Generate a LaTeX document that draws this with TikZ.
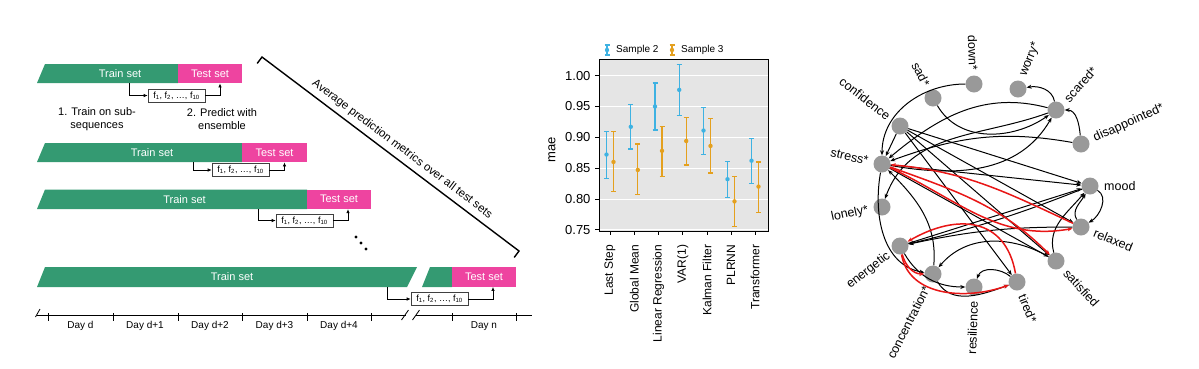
\documentclass[tikz,border=0pt]{standalone}
\usepackage{fontspec}
\setmainfont{Liberation Sans}
\usetikzlibrary{arrows.meta,calc,positioning}
\definecolor{trgreen}{RGB}{52,154,114}
\definecolor{tspink}{RGB}{238,68,160}
\definecolor{smpblue}{RGB}{62,178,226}
\definecolor{smporange}{RGB}{228,160,30}
\definecolor{plotbg}{RGB}{229,229,229}
\definecolor{netgray}{RGB}{153,153,153}
\definecolor{netred}{RGB}{232,22,22}

\begin{document}
\begin{tikzpicture}[x=1pt,y=1pt,
    trainlbl/.style={text=white, font=\fontsize{11}{13}\selectfont, inner sep=0pt},
    testbar/.style={fill=tspink, text=white, minimum width=64.5pt, minimum height=19.5pt, inner sep=0pt, font=\fontsize{11}{13}\selectfont},
    ensbox/.style={draw=black!75, fill=white, line width=0.6pt, minimum width=57pt, minimum height=13pt, inner sep=1pt, font=\fontsize{9}{10}\selectfont},
    flow/.style={-{Latex[length=4pt,width=3.5pt]}, line width=0.7pt},
    steptxt/.style={font=\fontsize{11}{12.5}\selectfont, align=center, inner sep=0pt},
    daylbl/.style={font=\fontsize{10}{12}\selectfont, inner sep=0pt},
    emanode/.style={circle, fill=netgray, minimum size=17pt, inner sep=0pt},
    emalbl/.style={font=\fontsize{12.5}{14}\selectfont, inner sep=0pt},
    netarrow/.style={-{Stealth[length=5pt,width=4pt]}, line width=1pt},
    rednetarrow/.style={netarrow, draw=netred, line width=1.5pt}
  ]
  \useasboundingbox (0,0) rectangle (1199,-368);

  % ---- train / test splits
  \fill[trgreen] (37,-83) -- (45,-64) -- (178,-64) -- (178,-83) -- cycle;
  \node[testbar] (test1) at (210,-73.5) {Test set};
  \node[trainlbl] (train1) at (120,-73.5) {Train set};
  \coordinate (src1) at (129,-83);
  \node[ensbox] (ens1) at (176.5,-95.5) {f\textsubscript{1}, f\textsubscript{2}, …, f\textsubscript{10}};
  \draw[flow] (src1) |- (ens1.west);
  \draw[flow] (ens1.east) -| ([xshift=10pt]test1.south);

  \node[steptxt] (stepA) at (97,-119) {1. Train on sub-\\sequences};
  \node[steptxt] (stepB) at (222,-119) {2. Predict with\\ensemble};

  \fill[trgreen] (37,-162) -- (45,-143) -- (242,-143) -- (242,-162) -- cycle;
  \node[testbar] (test2) at (274.5,-152.5) {Test set};
  \node[trainlbl] (train2) at (152,-152.5) {Train set};
  \coordinate (src2) at (193,-162);
  \node[ensbox] (ens2) at (240.5,-170) {f\textsubscript{1}, f\textsubscript{2}, …, f\textsubscript{10}};
  \draw[flow] (src2) |- (ens2.west);
  \draw[flow] (ens2.east) -| ([xshift=10pt]test2.south);

  \fill[trgreen] (37,-209) -- (45,-189.5) -- (307,-189.5) -- (307,-209) -- cycle;
  \node[testbar] (test3) at (339,-199.25) {Test set};
  \node[trainlbl] (train3) at (184.5,-199.25) {Train set};
  \coordinate (src3) at (258,-209);
  \node[ensbox] (ens3) at (304.5,-220.5) {f\textsubscript{1}, f\textsubscript{2}, …, f\textsubscript{10}};
  \draw[flow] (src3) |- (ens3.west);
  \draw[flow] (ens3.east) -| ([xshift=9pt]test3.south);

  % dots
  \foreach \dx/\dy in {356/237,361/243,366/249}
    \fill (\dx,-\dy) circle[radius=1.7pt];

  \fill[trgreen] (37,-287) -- (45,-267) -- (417,-267) -- (407,-287) -- cycle;
  \fill[trgreen] (430,-267) -- (452,-267) -- (452,-287) -- (422,-287) -- cycle;
  \node[testbar] (test4) at (484,-277) {Test set};
  \node[trainlbl] (train4) at (232,-277) {Train set};
  \coordinate (src4) at (387,-287);
  \node[ensbox] (ens4) at (439.5,-299) {f\textsubscript{1}, f\textsubscript{2}, …, f\textsubscript{10}};
  \draw[flow] (src4) |- (ens4.west);
  \draw[flow] (ens4.east) -| ([xshift=9pt]test4.south);

  % bracket
  \coordinate (brA) at (262,-57);
  \coordinate (brB) at (519,-251);
  \draw[line width=1.4pt] ($(brA)+(-4.8,-6.4)$) -- (brA) -- (brB) -- ($(brB)+(-4.8,-6.4)$);
  \path (brA) -- (brB) node[pos=0.52, sloped, above=2pt, font=\fontsize{11.5}{13}\selectfont] (avgtxt) {Average prediction metrics over all test sets};

  % time axis
  \draw[line width=0.8pt] (37,-315) -- (405.5,-315);
  \draw[line width=0.8pt] (415.5,-315) -- (532,-315);
  \draw[line width=0.8pt] (35.5,-317) -- (40,-309);
  \draw[line width=0.8pt] (401.5,-320) -- (408.5,-310);
  \draw[line width=0.8pt] (412.5,-320) -- (419.5,-310);
  \foreach \tx in {48,113,178,242,307,371,452,516}
    \draw[line width=0.8pt] (\tx,-313) -- (\tx,-321);
  \foreach \lx/\lt in {80.5/Day d,145/Day d+1,210/Day d+2,274.5/Day d+3,339/Day d+4,484/Day n}
    \node[daylbl] at (\lx,-326) {\lt};

  % ---- error bar chart
  \node[rotate=90, font=\fontsize{13}{15}\selectfont] (maelbl) at (552,-150) {mae};
  \begin{scope}[y=616pt, yshift=-691.7pt]
    \fill[plotbg] (599,0.7477) rectangle (768,1.027);
    \foreach \v/\t in {0.75/0.75,0.8/0.80,0.85/0.85,0.9/0.90,0.95/0.95,1.0/1.00} {
      \draw[white, line width=0.7pt] (599,\v) -- (768,\v);
      \draw[line width=0.8pt] (599,\v) -- ++(-4pt,0);
      \node[anchor=east, font=\fontsize{13}{15}\selectfont] at (594,\v) {\t};
    }
    \draw[line width=1pt] (599,0.7477) rectangle (768,1.027);
    \foreach \cx/\lbl/\bm/\bl/\bh/\om/\ol/\oh in {
        610/Last Step/0.872/0.833/0.910/0.860/0.812/0.909,
        634.3/Global Mean/0.917/0.881/0.953/0.847/0.807/0.889,
        658.5/Linear Regression/0.950/0.912/0.988/0.878/0.837/0.918,
        682.7/VAR(1)/0.977/0.935/1.018/0.894/0.855/0.932,
        707/Kalman Filter/0.911/0.872/0.949/0.886/0.842/0.930,
        731/PLRNN/0.832/0.802/0.861/0.796/0.755/0.836,
        755/Transformer/0.862/0.825/0.898/0.820/0.778/0.860} {
      \draw[smpblue, line width=1.2pt] ({\cx-3.5},\bl) -- ({\cx-3.5},\bh);
      \draw[smpblue, line width=1.2pt] ({\cx-6},\bl) -- ({\cx-1},\bl) ({\cx-6},\bh) -- ({\cx-1},\bh);
      \fill[smpblue] ({\cx-3.5},\bm) circle[radius=2.2pt];
      \draw[smporange, line width=1.2pt] ({\cx+3.5},\ol) -- ({\cx+3.5},\oh);
      \draw[smporange, line width=1.2pt] ({\cx+1},\ol) -- ({\cx+6},\ol) ({\cx+1},\oh) -- ({\cx+6},\oh);
      \fill[smporange] ({\cx+3.5},\om) circle[radius=2.2pt];
      \draw[line width=0.8pt] (\cx,0.7477) -- ++(0,-4pt);
      \node[rotate=90, anchor=east, font=\fontsize{12}{14}\selectfont] at (\cx,0.731) {\lbl};
    }
  \end{scope}
  % legend
  \draw[smpblue, line width=1.1pt] (607,-45) -- (607,-55) (604.5,-45) -- (609.5,-45) (604.5,-55) -- (609.5,-55);
  \fill[smpblue] (607,-50) circle[radius=2.2pt];
  \node[anchor=west, font=\fontsize{10}{12}\selectfont, inner sep=0pt] (leg2) at (616,-50) {Sample 2};
  \draw[smporange, line width=1.1pt] (672,-45) -- (672,-55) (669.5,-45) -- (674.5,-45) (669.5,-55) -- (674.5,-55);
  \fill[smporange] (672,-50) circle[radius=2.2pt];
  \node[anchor=west, font=\fontsize{10}{12}\selectfont, inner sep=0pt] (leg3) at (681,-50) {Sample 3};

  % ---- EMA network
  \foreach \n/\x/\y/\dir/\r/\anc/\t in {
      mood/1090/186/0/0/west/mood,
      relaxed/1081/227/-22/-22/west/relaxed,
      satisfied/1056/261/-45/-48/west/satisfied,
      tired/1017/282/-68/-68/west/tired*,
      resilience/974/287/-92/88/east/resilience,
      concentration/933/274/-117/63/east/concentration*,
      energetic/900/246/-142/38/east/energetic,
      lonely/882/207/-168/12/east/lonely*,
      stress/882/164/167/-13/east/stress*,
      confidence/900/126/142/-38/east/confidence,
      sad/933/98/117/-63/east/sad*,
      down/974/84/92/-88/east/down*,
      worry/1018/89/68/68/west/worry*,
      scared/1056/110/44/48/west/scared*,
      disappointed/1081/144/22/24/west/disappointed*} {
    \node[emanode] (\n) at (\x,-\y) {};
    \node[emalbl, rotate=\r, anchor=\anc] (\n-lbl) at ($(\n)+(\dir:14pt)$) {\t};
  }

  \draw[netarrow] (down) to[out=180,in=90] (stress);
  \draw[netarrow] (disappointed) to[out=95,in=0] (scared);
  \draw[netarrow] (scared) to[out=100,in=10] (worry);
  \draw[netarrow] (scared) to[out=165,in=40] (stress);
  \draw[netarrow] (disappointed) to[out=170,in=20] (stress);
  \draw[netarrow] (sad) to[out=-60,in=215] (scared);
  \draw[netarrow] (stress) to[out=-10,in=-120] (scared);
  \draw[netarrow] (scared) to[out=200,in=70] (lonely);
  \draw[netarrow] (confidence) -- (stress);
  \draw[netarrow] (confidence) -- (mood);
  \draw[netarrow] (confidence) -- (relaxed);
  \draw[netarrow] (confidence) -- (satisfied);
  \draw[netarrow] (confidence) -- (tired);
  \draw[netarrow] (stress) -- (mood);
  \draw[netarrow] (stress) -- (satisfied);
  \draw[netarrow] (energetic) -- (mood);
  \draw[netarrow] (mood) to[bend left=4] (energetic);
  \draw[netarrow] (relaxed) to[bend right=6] (energetic);
  \draw[netarrow] (satisfied) to[out=105,in=230] (mood);
  \draw[netarrow] (relaxed) to[out=120,in=240] (mood);
  \draw[netarrow] (mood) to[out=-30,in=30] (relaxed);
  \draw[netarrow] (stress) to[out=-100,in=170] (concentration);
  \draw[netarrow] (satisfied) to[out=150,in=50] (concentration);
  \draw[netarrow] (concentration) to[out=85,in=-45] (stress);
  \draw[netarrow] (energetic) to[out=-60,in=180] (resilience);
  \draw[netarrow] (tired) to[out=140,in=70] (resilience);
  \draw[netarrow] (concentration) to[out=-60,in=200] (tired);

  \draw[rednetarrow] (relaxed) to[out=155,in=-5] (stress);
  \draw[rednetarrow] (stress) to[out=-25,in=190] (relaxed);
  \draw[rednetarrow] (stress) to[out=-20,in=135] (satisfied);
  \draw[rednetarrow] (tired) to[out=100,in=30, looseness=1.3] (energetic);
  \draw[rednetarrow] (energetic) to[out=-80,in=200] (tired);
  \draw[rednetarrow] (energetic) to[out=-75,in=180] (concentration);
\end{tikzpicture}
\end{document}
